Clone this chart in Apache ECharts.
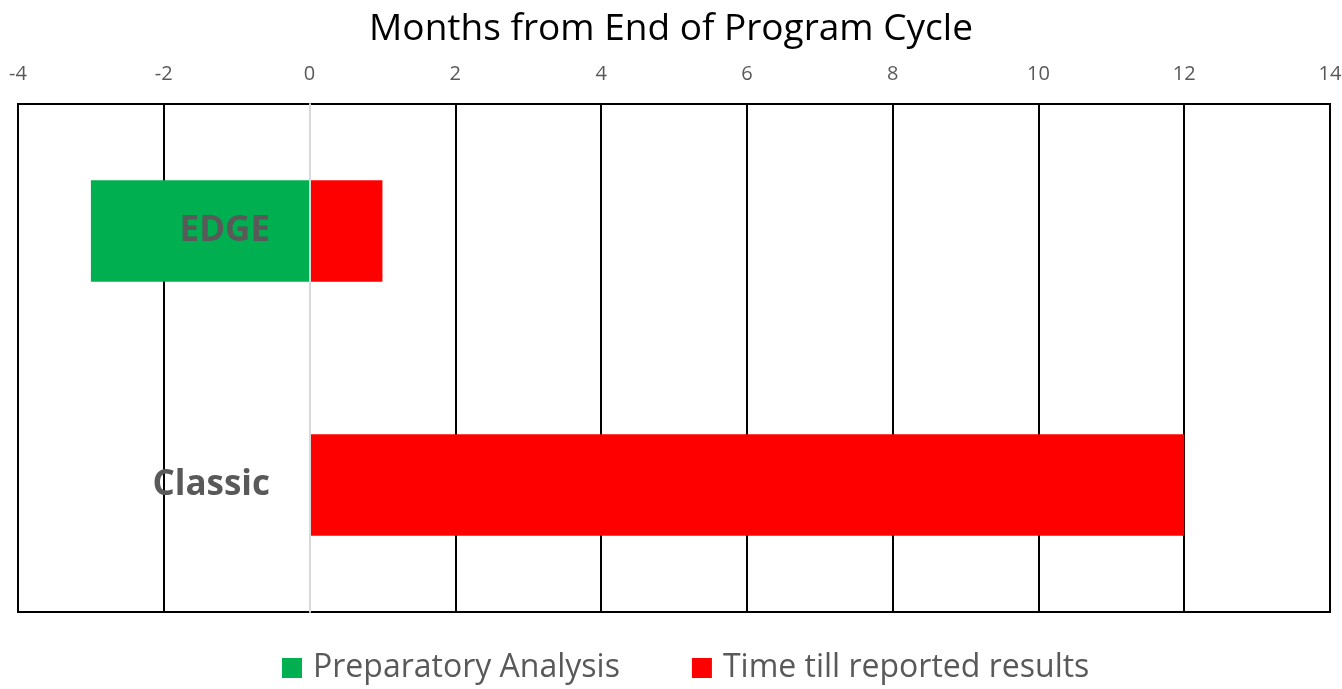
<!DOCTYPE html>
<html><head><meta charset="utf-8">
<script src="https://cdn.jsdelivr.net/npm/echarts@6/dist/echarts.min.js"></script>
<style>html,body{margin:0;padding:0;background:#fff}#c{width:1342px;height:689px}</style>
</head><body><div id="c"></div>
<script>
const categories = ['EDGE', 'Classic'];
const prepAnalysis = [-3, 0];
const timeTillResults = [1, 12];
const seriesNames = ['Preparatory Analysis', 'Time till reported results'];
const xMin = -4, xMax = 14, xStep = 2;

const splitColors = [];
for (let v = xMin; v <= xMax; v += xStep) splitColors.push(v === 0 ? 'rgba(0,0,0,0)' : '#000');

const chart = echarts.init(document.getElementById('c'));
chart.setOption({
  animation: false,
  title: {
    text: 'Months from End of Program Cycle',
    left: 'center', top: 6,
    textStyle: { fontFamily: 'Open Sans', fontWeight: 'normal', fontSize: 37, color: '#000' }
  },
  legend: {
    top: 647, left: 277,
    itemWidth: 20, itemHeight: 20, itemGap: 72,
    icon: 'rect',
    textStyle: { fontFamily: 'Open Sans', fontSize: 32, color: '#595959', padding: [0, 0, 0, 6] },
    data: seriesNames
  },
  grid: { left: 18, right: 12, top: 104, bottom: 77, show: true, borderColor: '#000', borderWidth: 2, outerBoundsMode: 'none', containLabel: false },
  xAxis: {
    type: 'value', position: 'top', min: xMin, max: xMax, interval: xStep,
    axisLine: { show: false }, axisTick: { show: false },
    axisLabel: { fontFamily: 'Open Sans', fontSize: 20, color: '#595959', margin: 20 },
    splitLine: { show: true, lineStyle: { color: splitColors, width: 2 } }
  },
  yAxis: {
    type: 'category', data: categories, inverse: true, z: 10,
    axisLine: { show: true, onZero: true, lineStyle: { color: '#d9d9d9', width: 2 } },
    axisTick: { show: false },
    axisLabel: { fontFamily: 'Open Sans', fontWeight: 'bold', fontSize: 35, color: '#595959', margin: -252 }
  },
  series: [
    { name: seriesNames[0], type: 'bar', stack: 'a', data: prepAnalysis, barWidth: '40%', itemStyle: { color: '#00b050' } },
    { name: seriesNames[1], type: 'bar', stack: 'a', data: timeTillResults, barWidth: '40%', itemStyle: { color: '#ff0000' } }
  ]
});
</script></body></html>
